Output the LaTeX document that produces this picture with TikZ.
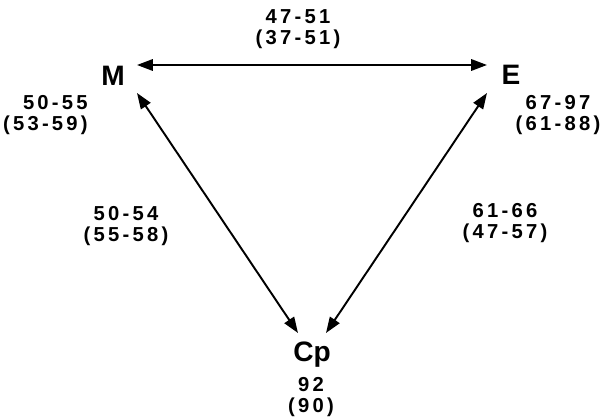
\documentclass[tikz,border=0pt]{standalone}
\usepackage{fontspec}
\usepackage{tikz}
\usetikzlibrary{
	arrows.meta,
	calc,
	positioning
}
\setmainfont{Liberation Sans}
\newfontface\valfont[LetterSpace=16]{Liberation Sans Bold}
\tikzset{
	phase/.style={inner sep=0pt, font=\fontsize{16}{18}\selectfont\bfseries},
	vals/.style={inner sep=0pt, align=center, font=\fontsize{11.5}{11.8}\selectfont\valfont},
	dbl/.style={{Triangle[length=9pt,width=6.5pt]}-{Triangle[length=9pt,width=6.5pt]}, line width=1.1pt}
}

\begin{document}
\begin{tikzpicture}[x=0.02cm, y=-0.02cm]
			\useasboundingbox (0,0) rectangle (609,418);
			% 三个相
			\node[phase] (M) at (113,76) {M};
			\node[phase] (E) at (511,75) {E};
			\node[phase] (Cp) at (312,355) {Cp};
			% 双向箭头
			\draw[dbl] ($(M)+(24,-11)$) -- ($(E)+(-24,-10)$);
			\draw[dbl] ($(M)+(24,17)$) -- ($(Cp)+(-14,-22)$);
			\draw[dbl] ($(E)+(-24,18)$) -- ($(Cp)+(14,-22)$);
			% 数值
			\node[vals] (vME) at (298,29) {47-51\\(37-51)};
			\node[vals, align=right, anchor=east] (vM) at (88,115) {50-55\\(53-59)};
			\node[vals] (vE) at (558,115) {67-97\\(61-88)};
			\node[vals] (vMC) at (126,226) {50-54\\(55-58)};
			\node[vals] (vEC) at (505,223) {61-66\\(47-57)};
			\node[vals] (vC) at (311,397) {92\\(90)};
		\end{tikzpicture}
\end{document}
